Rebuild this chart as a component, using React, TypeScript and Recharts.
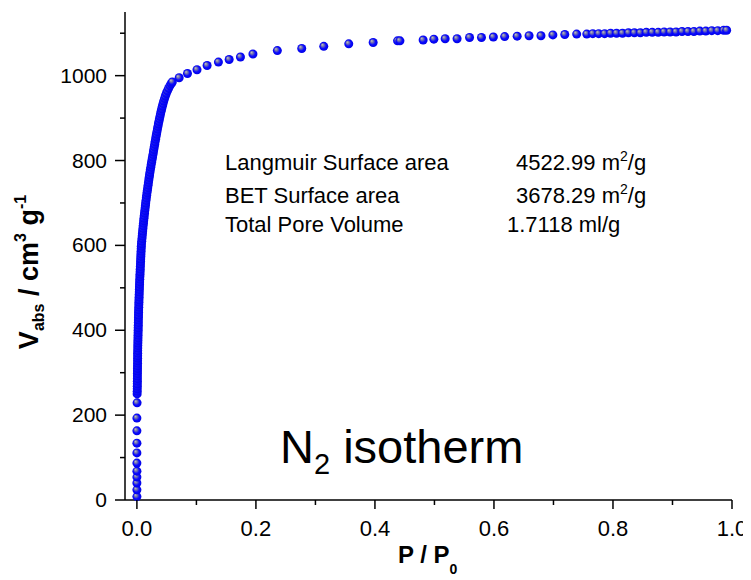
import { ScatterChart, Scatter, XAxis, YAxis } from "recharts";

// N2 adsorption isotherm
// low-pressure points sitting on P/P0 = 0
const lowP = [0, 0, 0, 0, 0, 0, 0, 0, 0, 0, 0.0003, 0.0004];
const lowV = [8, 24, 40, 54, 68, 87, 111, 134, 163, 193, 229, 250];

// steep micropore filling part (dense, looks like a solid band)
const steepP = [
  0.0005, 0.0006, 0.00065, 0.0007, 0.00075, 0.0008, 0.00085, 0.0009, 0.00095, 0.001,
  0.00105, 0.0011, 0.00115, 0.0012, 0.00125, 0.0013, 0.00135, 0.0014, 0.0015, 0.0016,
  0.0017, 0.0018, 0.0019, 0.002, 0.0021, 0.0022, 0.0023, 0.0024, 0.0025, 0.0026,
  0.0027, 0.0028, 0.0029, 0.0031, 0.0032, 0.0034, 0.0035, 0.0037, 0.0038, 0.004,
  0.0041, 0.0043, 0.0044, 0.0046, 0.0048, 0.005, 0.0052, 0.0054, 0.0056, 0.0058,
  0.006, 0.0062, 0.0064, 0.0066, 0.0068, 0.007, 0.0072, 0.0074, 0.0077, 0.0081,
  0.0085, 0.0089, 0.0093, 0.0097, 0.0101, 0.0105, 0.011, 0.0114, 0.0119, 0.0123,
  0.0128, 0.0133, 0.0138, 0.0143, 0.0148, 0.0153, 0.0159, 0.0164, 0.017, 0.0176,
  0.0182, 0.0188, 0.0194, 0.02, 0.0206, 0.0213, 0.0219, 0.0226, 0.0233, 0.024,
  0.0247, 0.0255, 0.0262, 0.027, 0.0277, 0.0284, 0.0292, 0.0299, 0.0306, 0.0314,
  0.0321, 0.0329, 0.0337, 0.0345, 0.0353, 0.0361, 0.037, 0.0379, 0.0388, 0.0397,
  0.0407, 0.0417, 0.0428, 0.0439, 0.0451, 0.0464, 0.0478, 0.0494, 0.0512, 0.0532,
  0.0554, 0.0575, 0.0595,
];
const steepV = [
  256, 262, 268, 274, 280, 286, 292, 298, 304, 310,
  316, 322, 328, 334, 340, 346, 352, 358, 364, 370,
  376, 382, 388, 394, 400, 406, 412, 418, 424, 430,
  436, 442, 448, 454, 460, 466, 472, 478, 484, 490,
  496, 502, 508, 514, 520, 526, 532, 538, 544, 550,
  556, 562, 568, 574, 580, 586, 592, 598, 604, 610,
  616, 622, 628, 634, 640, 646, 652, 658, 664, 670,
  676, 682, 688, 694, 700, 706, 712, 718, 724, 730,
  736, 742, 748, 754, 760, 766, 772, 778, 784, 790,
  796, 802, 808, 814, 820, 826, 832, 838, 844, 850,
  856, 862, 868, 874, 880, 886, 892, 898, 904, 910,
  916, 922, 928, 934, 940, 946, 952, 958, 964, 970,
  976, 981, 985,
];

// plateau
const plateauP = [
  0.071, 0.085, 0.101, 0.118, 0.137, 0.155, 0.174, 0.195, 0.236, 0.277,
  0.314, 0.356, 0.397, 0.438, 0.442, 0.481, 0.499, 0.518, 0.538, 0.559,
  0.579, 0.599, 0.618, 0.639, 0.659, 0.679, 0.699, 0.719, 0.739, 0.756,
  0.766, 0.776, 0.786, 0.796, 0.806, 0.816, 0.826, 0.836, 0.846, 0.856,
  0.866, 0.876, 0.886, 0.896, 0.906, 0.916, 0.926, 0.936, 0.946, 0.956,
  0.966, 0.976, 0.986, 0.991,
];
const plateauV = [
  995, 1005, 1014, 1024, 1032, 1038, 1044, 1051, 1059, 1064,
  1069, 1075, 1078, 1082, 1082, 1084, 1086, 1087, 1087, 1090,
  1090, 1091, 1092, 1093, 1094, 1094, 1096, 1097, 1098, 1098,
  1099, 1099, 1099, 1100, 1100, 1100, 1101, 1101, 1101, 1102,
  1102, 1102, 1103, 1103, 1103, 1104, 1104, 1104, 1105, 1105,
  1106, 1106, 1107, 1107,
];

const xTicks = [0, 0.1, 0.2, 0.3, 0.4, 0.5, 0.6, 0.7, 0.8, 0.9, 1.0];
const yTicks = [0, 100, 200, 300, 400, 500, 600, 700, 800, 900, 1000, 1100];

const results = [
  { name: "Langmuir Surface area", value: "4522.99 m", unit: "2", tail: "/g" },
  { name: "BET Surface area", value: "3678.29 m", unit: "2", tail: "/g" },
  { name: "Total Pore Volume", value: "1.7118 ml/g", unit: "", tail: "" },
];

const FONT = "'Liberation Sans', Arial, sans-serif";

const toPoints = (ps: number[], vs: number[]) => ps.map((p, i) => ({ p, v: vs[i] }));
const data = [...toPoints(lowP, lowV), ...toPoints(steepP, steepV), ...toPoints(plateauP, plateauV)];

const Ball = (props: any) => <circle cx={props.cx} cy={props.cy} r={4.5} fill="url(#ball)" />;

const XTick = (props: any) => {
  const { x, y, payload } = props;
  const v = payload.value;
  const major = Math.round(v * 10) % 2 === 0;
  return (
    <g>
      <line x1={x} x2={x} y1={y} y2={y + (major ? 9 : 5)} stroke="#000" strokeWidth={1.5} />
      {major && (
        <text x={x} y={y + 36} textAnchor="middle" fontSize={22} fontFamily={FONT} fill="#000">
          {v.toFixed(1)}
        </text>
      )}
    </g>
  );
};

const YTick = (props: any) => {
  const { x, y, payload } = props;
  const v = payload.value;
  const major = v % 200 === 0;
  return (
    <g>
      <line x1={x - (major ? 10 : 5)} x2={x} y1={y} y2={y} stroke="#000" strokeWidth={1.5} />
      {major && (
        <text x={x - 18} y={y + 7} textAnchor="end" fontSize={21} fontFamily={FONT} fill="#000">
          {v}
        </text>
      )}
    </g>
  );
};

export default function App() {
  return (
    <div style={{ position: "relative", width: 751, height: 580, margin: "-8px 0 0 -8px", background: "#fff" }}>
      <svg width={0} height={0} style={{ position: "absolute" }}>
        <defs>
          <radialGradient id="ball" cx="0.5" cy="0.5" r="0.55" fx="0.32" fy="0.3">
            <stop offset="0" stopColor="#c4c4c4" />
            <stop offset="0.3" stopColor="#7070b0" />
            <stop offset="0.6" stopColor="#0a0aff" />
            <stop offset="1" stopColor="#0000e0" />
          </radialGradient>
        </defs>
      </svg>
      <ScatterChart width={751} height={580} margin={{ top: 12, right: 19, bottom: 0, left: 0 }}>
        <XAxis
          type="number"
          dataKey="p"
          domain={[-0.02, 1.0]}
          ticks={xTicks}
          interval={0}
          height={80}
          tickSize={0}
          tickMargin={0}
          tickLine={false}
          tick={<XTick />}
          axisLine={{ stroke: "#000", strokeWidth: 1.5 }}
        />
        <YAxis
          type="number"
          dataKey="v"
          domain={[0, 1150]}
          ticks={yTicks}
          interval={0}
          width={125}
          tickSize={0}
          tickMargin={0}
          tickLine={false}
          tick={<YTick />}
          axisLine={{ stroke: "#000", strokeWidth: 1.5 }}
        />
        <Scatter data={data} shape={<Ball />} isAnimationActive={false} />
      </ScatterChart>
      <svg width={751} height={580} style={{ position: "absolute", left: 0, top: 0, pointerEvents: "none" }} fontFamily={FONT}>
        {results.map((r, i) => {
          const y = [170, 203, 232][i];
          return (
            <g key={r.name} fontSize={22} fill="#000">
              <text x={225} y={y}>{r.name}</text>
              <text x={r.unit ? 516 : 507} y={y}>
                {r.value}
                {r.unit && (
                  <tspan fontSize={14} dy={-9}>{r.unit}</tspan>
                )}
                {r.tail && <tspan fontSize={22} dy={9}>{r.tail}</tspan>}
              </text>
            </g>
          );
        })}
        <text x={280} y={463} fontSize={47} fill="#000">
          N<tspan fontSize={29} dy={11}>2</tspan>
          <tspan dy={-11}> isotherm</tspan>
        </text>
        <text x={398} y={563} fontSize={24} fontWeight="bold" fill="#000">
          P / P<tspan fontSize={14} dy={11}>0</tspan>
        </text>
        <text
          x={38}
          y={272}
          fontSize={27}
          fontWeight="bold"
          fill="#000"
          textAnchor="middle"
          transform="rotate(-90 38 272)"
        >
          V<tspan fontSize={16} dy={6}>abs</tspan>
          <tspan dy={-6}> / cm</tspan>
          <tspan fontSize={16} dy={-12}>3</tspan>
          <tspan dy={12}> g</tspan>
          <tspan fontSize={16} dy={-12}>-1</tspan>
        </text>
      </svg>
    </div>
  );
}
